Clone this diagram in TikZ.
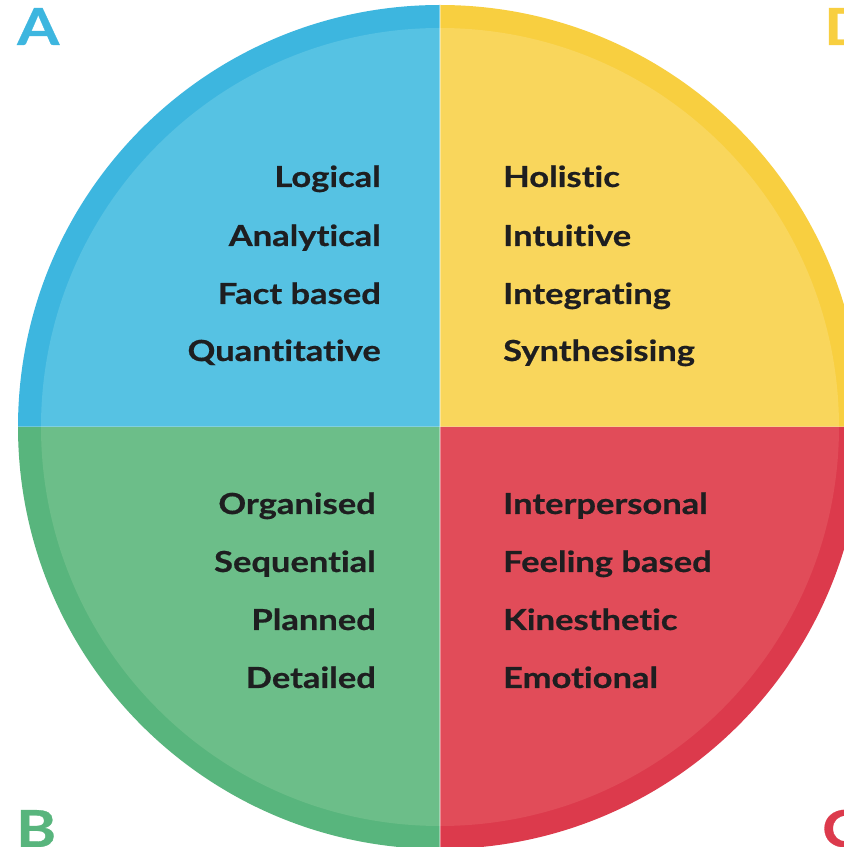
\documentclass[tikz,border=0pt]{standalone}
\usepackage{fontspec}
\setmainfont{Lato}[Ligatures={NoCommon}]
\newfontfamily\wordfont{Lato}[FakeStretch=1.19, Ligatures={NoCommon}, BoldFeatures={FakeBold=0.6}]
\definecolor{aout}{HTML}{3DB6DF}
\definecolor{ain}{HTML}{56C2E3}
\definecolor{dout}{HTML}{F8CF40}
\definecolor{din}{HTML}{F9D65C}
\definecolor{bout}{HTML}{58B57D}
\definecolor{bin}{HTML}{6CBE89}
\definecolor{cout}{HTML}{DC3A4C}
\definecolor{cin}{HTML}{E14C59}
\definecolor{txt}{HTML}{1E1E20}
\tikzset{
  word/.style={font=\wordfont\fontsize{29}{32}\selectfont\bfseries, text=txt, inner sep=0pt},
  lw/.style={word, anchor=base east},
  rw/.style={word, anchor=base west},
  big/.style={font=\wordfont\fontsize{51}{56}\selectfont\bfseries, inner sep=0pt}
}
\begin{document}
\begin{tikzpicture}[x=1pt,y=1pt]
\useasboundingbox (0,0) rectangle (844,847);
\clip (0,0) rectangle (844,847);
\fill[white] (0,0) rectangle (844,847);
\coordinate (c) at (440,420);
% outer rings
\fill[aout] (c) -- ++(90:422) arc[start angle=90,end angle=180,radius=422] -- cycle;
\fill[dout] (c) -- ++(0:422) arc[start angle=0,end angle=90,radius=422] -- cycle;
\fill[bout] (c) -- ++(180:422) arc[start angle=180,end angle=270,radius=422] -- cycle;
\fill[cout] (c) -- ++(270:422) arc[start angle=270,end angle=360,radius=422] -- cycle;
% inner
\fill[ain] (c) -- ++(90:399) arc[start angle=90,end angle=180,radius=399] -- cycle;
\fill[din] (c) -- ++(0:399) arc[start angle=0,end angle=90,radius=399] -- cycle;
\fill[bin] (c) -- ++(180:399) arc[start angle=180,end angle=270,radius=399] -- cycle;
\fill[cin] (c) -- ++(270:399) arc[start angle=270,end angle=360,radius=399] -- cycle;
% thin dividers
\draw[white, opacity=0.35, line width=1.2pt] (440,0) -- (440,847);
\draw[white, opacity=0.25, line width=1pt] (0,420) -- (844,420);
% letters
\node[big, text=aout, anchor=base west] (la) at (17,802) {A};
\node[big, text=dout, anchor=base west] (ld) at (824,802) {D};
\node[big, text=bout, anchor=base west] (lb) at (16,0) {B};
\node[big, text=cout, anchor=base west] (lc) at (822,0) {C};
% A words
\node[lw] (a1) at (381,660) {Logical};
\node[lw] (a2) at (381,601) {Analytical};
\node[lw] (a3) at (381,543) {Fact based};
\node[lw] (a4) at (381,486) {Quantitative};
% D words
\node[rw] (d1) at (503,660) {Holistic};
\node[rw] (d2) at (503,601) {Intuitive};
\node[rw] (d3) at (503,543) {Integrating};
\node[rw] (d4) at (503,486) {Synthesising};
% B words
\node[lw] (b1) at (376,333) {Organised};
\node[lw] (b2) at (376,275) {Sequential};
\node[lw] (b3) at (376,217) {Planned};
\node[lw] (b4) at (376,159) {Detailed};
% C words
\node[rw] (c1) at (503,333) {Interpersonal};
\node[rw] (c2) at (503,275) {Feeling based};
\node[rw] (c3) at (503,217) {Kinesthetic};
\node[rw] (c4) at (503,159) {Emotional};
\end{tikzpicture}
\end{document}
